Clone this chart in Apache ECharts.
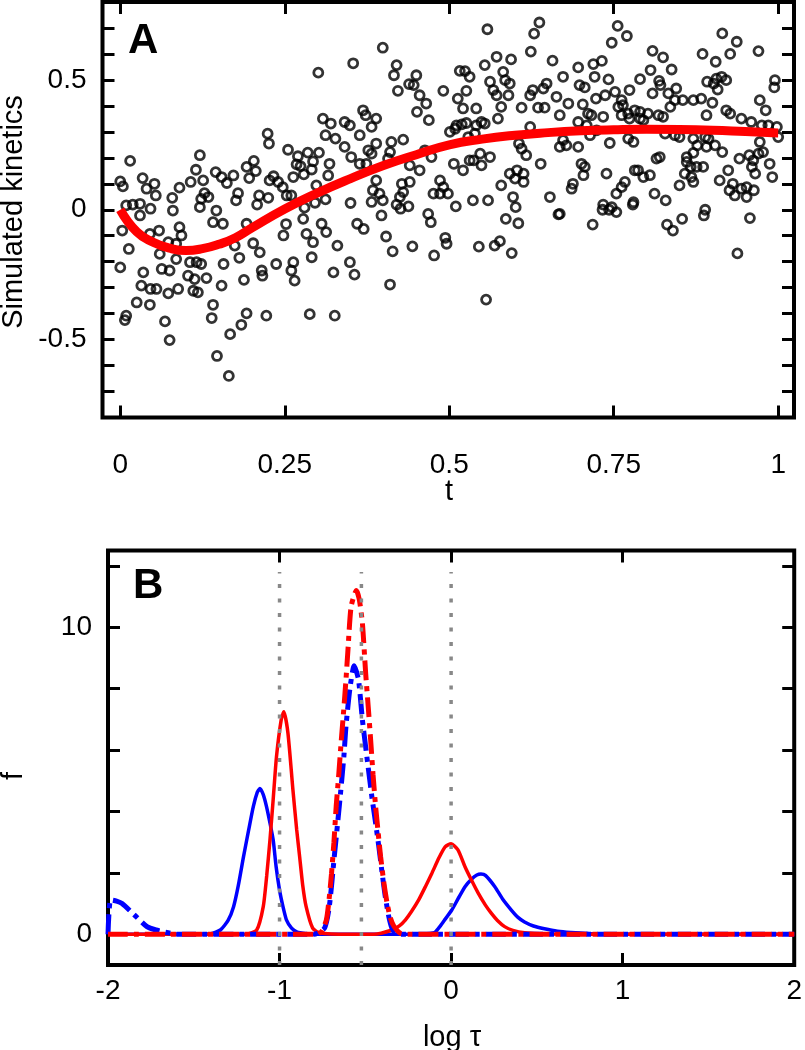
<!DOCTYPE html>
<html><head><meta charset="utf-8">
<script src="https://cdn.jsdelivr.net/npm/echarts@6/dist/echarts.min.js"></script>
<style>html,body{margin:0;padding:0;background:#fff}#c{width:805px;height:1050px}</style>
</head><body><div id="c"></div>
<script>
// ---------- Panel A data: simulated kinetics (t, value) ----------
const simulatedPoints = [
[0.301,0.528],[0.308,0.351],[0.320,0.332],[0.312,0.287],[0.327,0.274],[0.224,0.293],[0.226,0.255],[0.015,0.188],[0.000,0.109],[0.004,0.090],
[0.034,0.122],[0.040,0.081],[0.052,0.100],[0.054,0.055],[0.009,0.017],[0.019,0.020],[0.030,0.023],[0.046,0.004],[0.079,0.046],[0.090,0.085],
[0.107,0.107],[0.115,0.154],[0.121,0.210],[0.126,0.113],[0.128,0.064],[0.123,0.042],[0.134,0.049],[0.145,0.145],[0.154,0.126],[0.162,0.103],
[0.172,0.132],[0.179,0.064],[0.176,0.036],[0.192,0.165],[0.196,0.122],[0.203,0.188],[0.206,0.149],[0.211,0.055],[0.208,0.020],[0.225,0.046],
[0.227,0.113],[0.233,0.129],[0.240,0.107],[0.247,0.087],[0.253,0.055],[0.260,0.055],[0.255,0.231],[0.270,0.206],[0.268,0.175],[0.274,0.168],
[0.285,0.220],[0.293,0.186],[0.291,0.155],[0.302,0.220],[0.318,0.177],[0.316,0.132],[0.298,0.094],[0.312,0.040],[0.296,0.027],[0.279,0.136],
[0.263,0.126],
[0.003,-0.080],[0.013,-0.151],[0.000,-0.222],[0.030,-0.022],[0.045,-0.093],[0.059,-0.080],[0.073,-0.125],[0.060,-0.170],[0.063,-0.228],[0.075,-0.234],
[0.085,-0.131],[0.090,-0.067],[0.093,-0.099],[0.106,-0.202],[0.116,-0.202],[0.123,-0.209],[0.103,-0.254],[0.113,-0.267],[0.111,-0.312],[0.118,-0.318],
[0.131,-0.263],[0.035,-0.241],[0.032,-0.292],[0.046,-0.305],[0.055,-0.305],[0.073,-0.322],[0.088,-0.305],[0.025,-0.357],[0.045,-0.366],[0.009,-0.408],
[0.007,-0.425],[0.068,-0.430],[0.075,-0.502],[0.141,-0.366],[0.139,-0.417],[0.154,-0.292],[0.157,-0.209],[0.147,-0.563],[0.165,-0.640],[0.167,-0.479],
[0.184,-0.443],[0.192,-0.399],[0.188,-0.270],[0.181,-0.185],[0.174,-0.138],[0.192,-0.054],[0.202,-0.129],[0.215,-0.234],[0.216,-0.254],[0.212,-0.164],
[0.237,-0.209],[0.248,-0.099],[0.263,-0.202],[0.265,-0.273],[0.260,-0.234],[0.222,-0.408],[0.278,-0.035],[0.283,-0.093],[0.293,-0.125],[0.291,-0.183],
[0.306,-0.054],[0.313,-0.086],[0.324,-0.241],[0.326,-0.408],[0.288,-0.402],[0.141,-0.048],[0.156,-0.054],[0.146,-0.003],[0.121,0.010],[0.080,-0.003],
[0.280,0.008],[0.085,-0.190],[0.252,-0.055],
[0.354,0.564],[0.399,0.624],[0.558,0.695],[0.637,0.721],[0.629,0.678],[0.624,0.609],[0.657,0.574],[0.673,0.512],[0.572,0.589],[0.594,0.579],
[0.554,0.557],[0.420,0.557],[0.416,0.518],[0.450,0.518],[0.439,0.484],[0.446,0.480],[0.422,0.458],[0.455,0.441],[0.465,0.409],[0.451,0.377],
[0.469,0.345],[0.491,0.458],[0.516,0.535],[0.524,0.534],[0.531,0.512],[0.513,0.428],[0.526,0.458],[0.521,0.390],[0.541,0.390],[0.562,0.493],
[0.567,0.461],[0.572,0.441],[0.582,0.531],[0.585,0.499],[0.592,0.486],[0.590,0.441],[0.579,0.396],[0.574,0.351],[0.610,0.393],[0.623,0.441],
[0.627,0.461],[0.643,0.467],[0.648,0.486],[0.645,0.393],[0.635,0.393],[0.663,0.435],[0.668,0.364],[0.681,0.409],[0.369,0.383],[0.373,0.364],
[0.389,0.351],[0.382,0.319],[0.364,0.287],[0.349,0.325],[0.341,0.338],[0.341,0.242],[0.351,0.203],[0.364,0.177],[0.377,0.229],[0.389,0.255],
[0.412,0.261],[0.430,0.270],[0.410,0.222],[0.407,0.197],[0.374,0.177],[0.382,0.216],[0.389,0.113],[0.384,0.075],[0.394,0.062],[0.399,0.036],
[0.428,0.100],[0.430,0.068],[0.425,0.049],[0.440,0.107],[0.455,0.152],[0.440,0.171],[0.463,0.229],[0.473,0.203],[0.476,0.062],[0.486,0.113],
[0.491,0.087],[0.486,0.062],[0.498,0.062],[0.501,0.300],[0.509,0.312],[0.511,0.325],[0.519,0.329],[0.526,0.334],[0.541,0.325],[0.549,0.338],
[0.554,0.332],[0.529,0.280],[0.539,0.293],[0.547,0.216],[0.562,0.203],[0.531,0.190],[0.537,0.190],[0.549,0.171],[0.521,0.152],[0.507,0.177],
[0.536,0.036],[0.559,0.036],[0.579,0.094],[0.592,0.139],[0.603,0.152],[0.613,0.139],[0.613,0.107],[0.600,0.120],[0.606,0.255],[0.610,0.235],
[0.617,0.210],[0.623,0.319],[0.639,0.177],[0.653,0.049],[0.668,0.242],[0.673,0.268],[0.678,0.248],[0.597,0.049],
[0.330,-0.138],[0.349,-0.202],[0.356,-0.250],[0.360,-0.054],[0.370,-0.074],[0.397,-0.022],[0.404,-0.103],[0.414,-0.160],[0.444,-0.141],[0.410,-0.288],
[0.468,-0.016],[0.472,-0.048],[0.494,-0.108],[0.496,-0.131],[0.477,-0.176],[0.510,0.013],[0.545,-0.142],[0.569,-0.138],[0.577,-0.121],[0.595,-0.167],
[0.586,-0.035],[0.605,-0.052],[0.601,0.010],[0.556,-0.346],[0.666,-0.018],[0.350,0.026],[0.382,0.030],[0.426,0.004],[0.438,0.013],[0.420,0.020],
[0.756,0.708],[0.770,0.669],[0.747,0.643],[0.915,0.679],[0.937,0.647],[0.970,0.611],[0.885,0.600],[0.927,0.600],[0.905,0.570],[0.809,0.612],
[0.825,0.587],[0.838,0.540],[0.806,0.538],[0.790,0.503],[0.819,0.496],[0.821,0.480],[0.845,0.467],[0.833,0.448],[0.809,0.448],[0.774,0.461],
[0.742,0.502],[0.732,0.573],[0.719,0.561],[0.696,0.548],[0.698,0.480],[0.706,0.471],[0.721,0.512],[0.737,0.441],[0.752,0.454],[0.723,0.428],
[0.703,0.406],[0.762,0.422],[0.764,0.403],[0.757,0.396],[0.782,0.383],[0.790,0.377],[0.802,0.370],[0.772,0.370],[0.762,0.364],[0.774,0.351],
[0.790,0.351],[0.795,0.345],[0.818,0.364],[0.825,0.358],[0.836,0.396],[0.843,0.422],[0.855,0.422],[0.871,0.422],[0.883,0.428],[0.900,0.412],
[0.892,0.493],[0.902,0.486],[0.906,0.505],[0.914,0.512],[0.921,0.499],[0.908,0.463],[0.891,0.364],[0.921,0.383],[0.927,0.370],[0.944,0.351],
[0.959,0.338],[0.972,0.422],[0.981,0.383],[0.995,0.499],[0.994,0.471],[0.998,0.319],[1.000,0.280],[0.985,0.325],[0.975,0.325],[0.972,0.261],
[0.970,0.216],[0.977,0.222],[0.956,0.210],[0.941,0.197],[0.962,0.190],[0.960,0.165],[0.987,0.177],[0.991,0.126],[0.965,0.139],[0.963,0.075],
[0.952,0.087],[0.944,0.081],[0.931,0.100],[0.926,0.075],[0.934,0.055],[0.952,0.049],[0.911,0.113],[0.924,0.152],[0.915,0.222],[0.904,0.248],
[0.891,0.242],[0.894,0.274],[0.877,0.248],[0.871,0.219],[0.861,0.203],[0.861,0.184],[0.867,0.165],[0.876,0.165],[0.886,0.165],[0.868,0.126],
[0.871,0.107],[0.858,0.139],[0.850,0.094],[0.889,0.280],[0.871,0.274],[0.843,0.287],[0.850,0.280],[0.828,0.293],[0.820,0.203],[0.815,0.197],
[0.805,0.133],[0.795,0.126],[0.787,0.152],[0.782,0.152],[0.812,0.062],[0.829,0.036],[0.780,0.029],[0.767,0.107],[0.762,0.087],[0.754,0.062],
[0.739,0.139],[0.744,0.257],[0.780,0.261],[0.772,0.274],[0.724,0.306],[0.734,0.358],[0.716,0.364],[0.711,0.370],[0.696,0.338],[0.714,0.287],
[0.709,0.325],[0.696,0.242],[0.701,0.177],[0.706,0.165],[0.704,0.133],[0.688,0.100],[0.686,0.081],[0.734,0.020],[0.747,0.010],[0.889,0.000],
[0.668,-0.016],[0.718,-0.057],[0.733,0.000],[0.743,0.000],[0.754,-0.009],[0.779,0.020],[0.831,-0.057],[0.840,-0.080],[0.854,-0.035],[0.887,-0.022],
[0.957,-0.032],[0.938,-0.168]
];
const fitT = [0,0.025,0.05,0.075,0.1,0.125,0.15,0.175,0.2,0.25,0.3,0.35,0.4,0.45,0.5,0.55,0.6,0.65,0.7,0.75,0.8,0.85,0.9,0.95,1];
const fitV = [0,-0.085,-0.125,-0.148,-0.157,-0.15,-0.133,-0.108,-0.07,0.003,0.065,0.12,0.17,0.212,0.25,0.272,0.287,0.297,0.304,0.308,0.31,0.309,0.306,0.301,0.296];
const tTicks = [0,0.25,0.5,0.75,1];
const kinTicks = [-0.7,-0.6,-0.5,-0.4,-0.3,-0.2,-0.1,0,0.1,0.2,0.3,0.4,0.5,0.6,0.7];
const kinLabels = [-0.5,0,0.5];

// ---------- Panel B data: distributions f(log tau) ----------
const logTauTicks = [-2,-1,0,1,2];
const fTicks = [0,2,4,6,8,10,12];
const fLabels = [0,10];
const refLogTau = [-1,-0.5229,0];
const blueSolid = [[-2,0],[-1.5,0],[-1.4,0.02],[-1.345,0.14],[-1.3,0.45],[-1.268,0.9],[-1.24,1.6],[-1.21,2.53],[-1.18,3.4],[-1.153,4.16],[-1.13,4.62],
[-1.115,4.75],[-1.095,4.55],[-1.076,4.16],[-1.055,3.6],[-1.037,3.07],[-1.02,2.2],[-1.0,1.44],[-0.98,0.9],[-0.96,0.47],[-0.93,0.2],[-0.9,0.08],[-0.85,0.02],[-0.8,0],
[-0.5,0],[-0.2,0],[-0.1,0.05],[-0.073,0.2],[-0.04,0.45],[0.004,0.79],[0.04,1.15],[0.081,1.55],[0.12,1.8],[0.15,1.93],[0.174,1.96],[0.2,1.92],[0.255,1.55],
[0.3,1.15],[0.351,0.79],[0.39,0.55],[0.428,0.4],[0.48,0.27],[0.544,0.18],[0.62,0.1],[0.698,0.06],[0.8,0.03],[1.0,0.01],[1.5,0],[2,0]];
const redSolid = [[-2,0],[-1.2,0],[-1.134,0.13],[-1.095,0.9],[-1.075,1.9],[-1.056,3.07],[-1.037,4.4],[-1.018,5.78],[-0.99,7.0],[-0.975,7.25],[-0.951,6.55],
[-0.922,4.7],[-0.9,3.4],[-0.883,2.53],[-0.865,1.6],[-0.845,0.9],[-0.807,0.2],[-0.768,0.05],[-0.6,0],[-0.45,0],[-0.344,0.14],[-0.3,0.28],[-0.266,0.47],
[-0.23,0.75],[-0.189,1.12],[-0.15,1.55],[-0.112,1.99],[-0.07,2.5],[-0.035,2.85],[0,2.95],[0.04,2.75],[0.081,2.2],[0.12,1.75],[0.158,1.34],[0.2,0.95],
[0.235,0.68],[0.27,0.45],[0.312,0.25],[0.36,0.13],[0.428,0.05],[0.55,0.01],[1.0,0],[2,0]];
const blueDashDot = [[-2,0],[-1.985,1.12],[-1.95,1.08],[-1.918,1.0],[-1.85,0.65],[-1.773,0.25],[-1.72,0.14],[-1.65,0.05],[-1.6,0],[-1.2,0],[-0.8,0],
[-0.738,0.2],[-0.71,0.9],[-0.681,2.53],[-0.652,4.16],[-0.625,5.8],[-0.613,6.76],[-0.59,8.0],[-0.565,8.75],[-0.54,8.3],[-0.517,6.98],[-0.498,6.1],
[-0.479,5.24],[-0.46,4.4],[-0.44,3.62],[-0.42,2.8],[-0.402,1.99],[-0.383,1.2],[-0.363,0.57],[-0.345,0.2],[-0.325,0.05],[-0.3,0],[2,0]];
const redDashDot = [[-2,0],[-0.8,0],[-0.756,0.08],[-0.727,0.47],[-0.712,1.1],[-0.697,1.99],[-0.683,3.0],[-0.67,4.16],[-0.655,5.2],[-0.64,6.33],[-0.626,7.3],
[-0.613,8.28],[-0.602,9.2],[-0.583,10.67],[-0.552,11.2],[-0.535,10.9],[-0.517,10.13],[-0.498,8.5],[-0.483,7.4],[-0.469,6.33],[-0.455,5.2],[-0.44,4.16],
[-0.425,3.3],[-0.411,2.53],[-0.39,1.6],[-0.373,1.01],[-0.355,0.55],[-0.334,0.27],[-0.295,0.03],[-0.25,0],[2,0]];

// ---------- chart ----------
const FONT = "'Liberation Sans', Arial, Helvetica, sans-serif";
const tickStyle = {inside:true, length:12, lineStyle:{color:'#000', width:3}};
const lbl = (vals, extra) => Object.assign({color:'#000', fontSize:28, fontFamily:FONT, customValues:vals}, extra||{});
function ax(grid, min, max, ticks, labels, pos, margin){
  return {type:'value', gridIndex:grid, min:min, max:max, position:pos,
    axisLine:{show:false, onZero:false}, splitLine:{show:false},
    axisTick:Object.assign({customValues:ticks}, tickStyle),
    axisLabel: labels ? lbl(labels,{margin:margin}) : {show:false}};
}
const chart = echarts.init(document.getElementById('c'), null, {renderer:'canvas'});
chart.setOption({
  animation:false,
  backgroundColor:'#fff',
  grid:[
    {left:102.5, top:2, width:691.5, height:415.5, show:true, borderColor:'#000', borderWidth:4, backgroundColor:'transparent'},
    {left:108, top:550.5, width:689.5, height:414.5, show:true, borderColor:'#000', borderWidth:4, backgroundColor:'transparent'}
  ],
  xAxis:[
    ax(0,-0.027,1.024,tTicks,tTicks,'bottom',34),
    ax(0,-0.027,1.024,tTicks,null,'top'),
    ax(1,-2,2,logTauTicks,logTauTicks,'bottom',12),
    ax(1,-2,2,logTauTicks,null,'top')
  ],
  yAxis:[
    ax(0,-0.8,0.8,kinTicks,kinLabels,'left',16),
    ax(0,-0.8,0.8,kinTicks,null,'right'),
    ax(1,-1,12.5,fTicks,fLabels,'left',16),
    ax(1,-1,12.5,fTicks,null,'right')
  ],
  series:[
    {type:'scatter', xAxisIndex:0, yAxisIndex:0, data:simulatedPoints, symbol:'circle', symbolSize:9,
      itemStyle:{color:'rgba(0,0,0,0)', borderColor:'#000', borderWidth:2.8}, z:2},
    {type:'line', xAxisIndex:0, yAxisIndex:0, data:fitT.map((t,i)=>[t,fitV[i]]), smooth:true, showSymbol:false,
      lineStyle:{color:'#ff0000', width:9}, z:3},
    {type:'line', xAxisIndex:2, yAxisIndex:2, data:blueSolid, smooth:0.2, showSymbol:false, lineStyle:{color:'#0000ff', width:3.5}, z:2},
    {type:'line', xAxisIndex:2, yAxisIndex:2, data:redSolid, smooth:0.2, showSymbol:false, lineStyle:{color:'#ff0000', width:3.5}, z:3},
    {type:'line', xAxisIndex:2, yAxisIndex:2, data:blueDashDot, smooth:0.2, showSymbol:false, lineStyle:{color:'#0000ff', width:5, type:[20,6,5,6]}, z:4},
    {type:'line', xAxisIndex:2, yAxisIndex:2, data:redDashDot, smooth:0.2, showSymbol:false, lineStyle:{color:'#ff0000', width:5, type:[20,6,5,6]}, z:5}
  ].concat(refLogTau.map(x=>({type:'line', xAxisIndex:2, yAxisIndex:2, data:[[x,-1],[x,11.8]], showSymbol:false,
      lineStyle:{color:'#888', width:3.5, type:[4,10.5]}, z:6}))),
  graphic:[
    {type:'text', x:128, y:41, style:{text:'A', font:'bold 42px '+FONT, fill:'#000', textAlign:'left', textVerticalAlign:'middle', align:'left', verticalAlign:'middle'}},
    {type:'text', x:133, y:586, style:{text:'B', font:'bold 42px '+FONT, fill:'#000', textAlign:'left', textVerticalAlign:'middle', align:'left', verticalAlign:'middle'}},
    {type:'text', x:14, y:212, rotation:Math.PI/2, style:{text:'Simulated kinetics', font:'29px '+FONT, fill:'#000', textAlign:'center', textVerticalAlign:'middle', align:'center', verticalAlign:'middle'}},
    {type:'text', x:449, y:492, style:{text:'t', font:'29px '+FONT, fill:'#000', textAlign:'center', textVerticalAlign:'middle', align:'center', verticalAlign:'middle'}},
    {type:'text', x:14, y:776, rotation:Math.PI/2, style:{text:'f', font:'29px '+FONT, fill:'#000', textAlign:'center', textVerticalAlign:'middle', align:'center', verticalAlign:'middle'}},
    {type:'text', x:452, y:1038, style:{text:'log τ', font:'29px '+FONT, fill:'#000', textAlign:'center', textVerticalAlign:'middle', align:'center', verticalAlign:'middle'}}
  ]
});
</script></body></html>
